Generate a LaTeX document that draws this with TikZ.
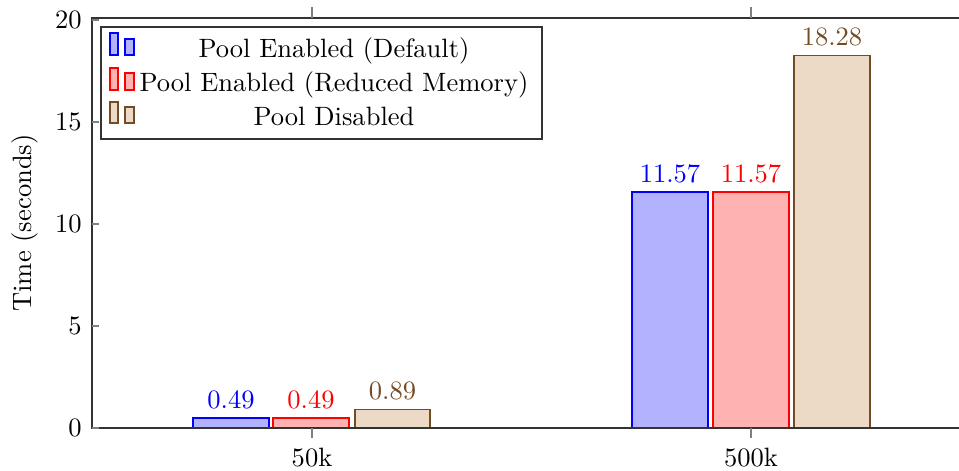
\documentclass[tikz,border=0pt]{standalone}
\begin{document}
\begin{tikzpicture}[x=0.377pt,y=-0.377pt,
  bluebar/.style={draw=blue,fill=blue!30!white},
  redbar/.style={draw=red,fill=red!30!white},
  tanbar/.style={draw=brown!60!black,fill=brown!30!white},
  tickline/.style={draw=gray},
  axisline/.style={draw=black!80},
  vallabel/.style={anchor=south},
  ticklabel/.style={inner sep=3.33pt}]
\useasboundingbox (0,0) rectangle (959,470);
\begin{scope}
\clip (0,0) rectangle (959,470);
% bars 50k
\draw[bluebar] (193,428) rectangle (269,418);
\draw[redbar] (273,428) rectangle (349,418);
\draw[tanbar] (355,428) rectangle (430,409.8);
% bars 500k
\draw[bluebar] (632,428) rectangle (708,192);
\draw[redbar] (713,428) rectangle (789,192);
\draw[tanbar] (794,428) rectangle (870,55.1);
% value labels
\node[vallabel,text=blue] (v1) at (231,418) {0.49};
\node[vallabel,text=red] (v2) at (311,418) {0.49};
\node[vallabel,text=brown!60!black] (v3) at (392.5,409.8) {0.89};
\node[vallabel,text=blue] (v4) at (670,192) {11.57};
\node[vallabel,text=red] (v5) at (751,192) {11.57};
\node[vallabel,text=brown!60!black] (v6) at (832,55.1) {18.28};
% axis
\draw[axisline] (959,18) -- (92,18) -- (92,428) -- (959,428);
\end{scope}
% y ticks
\foreach \v/\p in {0/428,5/326,10/224,15/122,20/20}{
  \draw[tickline] (92,\p) -- (99,\p);
  \node[ticklabel,anchor=east] (yl\v) at (91,\p) {\v};
}
% x ticks
\draw[tickline] (312,428) -- (312,438);
\draw[tickline] (312,18) -- (312,7);
\draw[tickline] (751,428) -- (751,438);
\draw[tickline] (751,18) -- (751,7);
\node[ticklabel,anchor=north] (xl1) at (312,439) {50k};
\node[ticklabel,anchor=north] (xl2) at (751,439) {500k};
% y label
\node[rotate=90] (ylab) at (25,223) {Time (seconds)};
% legend
\draw[axisline,fill=white] (101,27) rectangle (542,139);
\draw[bluebar] (110,33) rectangle (118,55);
\draw[bluebar] (125,39) rectangle (134,55);
\draw[redbar] (110,68) rectangle (118,90);
\draw[redbar] (125,73) rectangle (134,90);
\draw[tanbar] (110,102) rectangle (118,123);
\draw[tanbar] (125,107) rectangle (134,123);
\node[anchor=base] (l1) at (334,57) {Pool Enabled (Default)};
\node[anchor=base] (l2) at (334,91) {Pool Enabled (Reduced Memory)};
\node[anchor=base] (l3) at (334,125) {Pool Disabled};
\end{tikzpicture}
\end{document}
